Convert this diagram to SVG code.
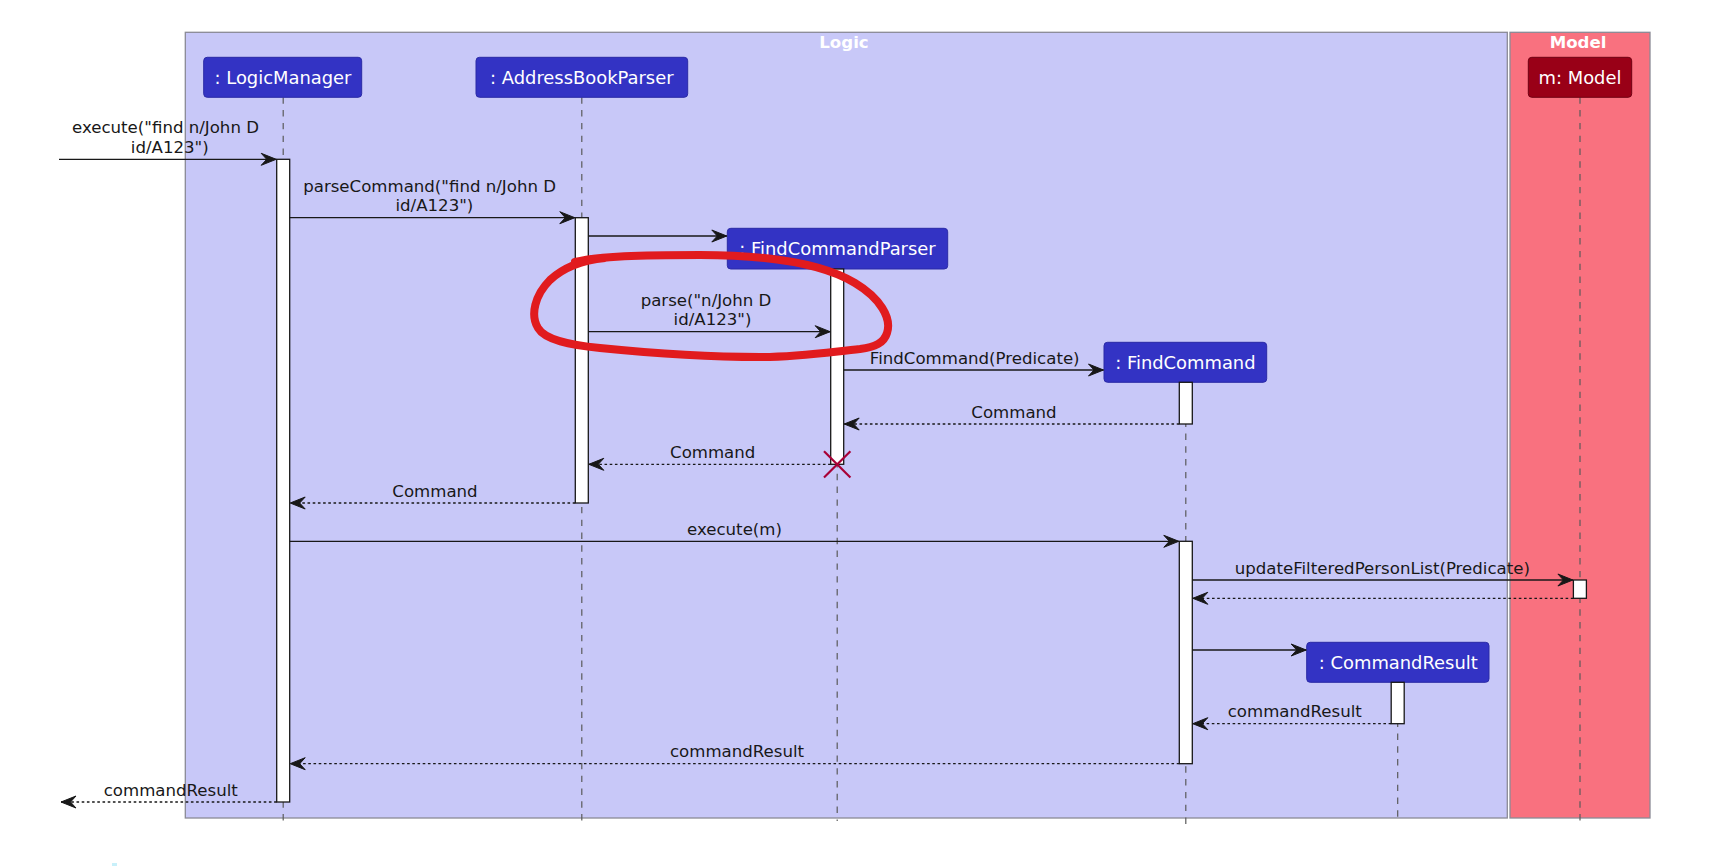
<svg xmlns="http://www.w3.org/2000/svg" width="1712" height="868" viewBox="0 0 1712 868">
<style>
.msg{font-family:"DejaVu Sans",sans-serif;font-size:16.6px;fill:#181818;text-anchor:middle}
.pn{font-family:"DejaVu Sans",sans-serif;font-size:17.9px;fill:#ffffff;text-anchor:middle}
.ttl{font-family:"DejaVu Sans",sans-serif;font-size:16.6px;font-weight:bold;fill:#ffffff;text-anchor:middle}
.life{stroke:#5a5a5a;stroke-width:1.2;stroke-dasharray:6.4 6.4;fill:none}
.act{fill:#ffffff;stroke:#181818;stroke-width:1.3}
.call{stroke:#181818;stroke-width:1.3;fill:none;marker-end:url(#ah)}
.ret{stroke:#181818;stroke-width:1.3;fill:none;stroke-dasharray:2.6 2.6;marker-end:url(#ah)}
.pbox{fill:#3333C4;stroke:#2a2aa6;stroke-width:1}
.mbox{fill:#990017;stroke:#700012;stroke-width:1}
</style>
<defs>
<marker id="ah" viewBox="-16 -8 17 16" refX="0" refY="0" markerWidth="17" markerHeight="16" markerUnits="userSpaceOnUse" orient="auto">
<path d="M0,0 L-15,-6 L-9.5,0 L-15,6 Z" fill="#181818" stroke="#181818" stroke-width="1" stroke-linejoin="miter"/>
</marker>
</defs>
<rect width="1712" height="868" fill="#ffffff"/>
<g id="box-logic">
<rect x="185.3" y="32.3" width="1322" height="785.7" fill="#C8C8F8" stroke="#8a8a96" stroke-width="1.3"/>
<text class="ttl" x="844" y="47.5">Logic</text>
</g>
<g id="box-model">
<rect x="1510" y="32.3" width="140" height="785.7" fill="#F9717F" stroke="#8a8a96" stroke-width="1.3"/>
<text class="ttl" x="1578" y="47.5">Model</text>
</g>
<g id="LogicManager">
<line class="life" x1="283.2" y1="97.3" x2="283.2" y2="821"/>
<rect class="pbox" x="203.7" y="57.3" width="158" height="40" rx="3.5"/>
<text class="pn" x="283" y="83.6">: LogicManager</text>
<rect class="act" x="276.7" y="159.3" width="13" height="642.7"/>
</g>
<g id="AddressBookParser">
<line class="life" x1="581.8" y1="97.3" x2="581.8" y2="821"/>
<rect class="pbox" x="476" y="57.3" width="211.7" height="40" rx="3.5"/>
<text class="pn" x="581.8" y="83.6">: AddressBookParser</text>
<rect class="act" x="575.3" y="217.7" width="13" height="285.3"/>
</g>
<g id="FindCommandParser">
<line class="life" x1="837.2" y1="269" x2="837.2" y2="821"/>
<rect class="pbox" x="727.3" y="228.3" width="220.4" height="40.7" rx="3.5"/>
<text class="pn" x="837.5" y="254.8">: FindCommandParser</text>
<rect class="act" x="830.7" y="269" width="13" height="195.3"/>
<g id="destroy" stroke="#A80036" stroke-width="2.2">
<line x1="824" y1="451.3" x2="850.4" y2="477.5"/>
<line x1="850.4" y1="451.3" x2="824" y2="477.5"/>
</g>
</g>
<g id="FindCommand">
<line class="life" x1="1185.8" y1="382.3" x2="1185.8" y2="827"/>
<rect class="pbox" x="1104" y="342.3" width="162.7" height="40" rx="3.5"/>
<text class="pn" x="1185.4" y="368.6">: FindCommand</text>
<rect class="act" x="1179.3" y="382.3" width="13" height="41.7"/>
<rect class="act" x="1179.3" y="541.3" width="13" height="222.4"/>
</g>
<g id="CommandResult">
<line class="life" x1="1397.7" y1="682.3" x2="1397.7" y2="821"/>
<rect class="pbox" x="1306.7" y="642.3" width="182.3" height="40" rx="3.5"/>
<text class="pn" x="1398.3" y="668.6">: CommandResult</text>
<rect class="act" x="1391.2" y="682.3" width="13" height="41.4"/>
</g>
<g id="Model">
<line class="life" x1="1580" y1="97.3" x2="1580" y2="821" stroke="#7a4a50"/>
<rect class="mbox" x="1528.3" y="57.3" width="103.4" height="40" rx="3.5"/>
<text class="pn" x="1580" y="83.6" fill="#FFE6EA">m: Model</text>
<rect class="act" x="1573.4" y="580" width="13" height="18.3"/>
</g>
<g id="connectors">
<line class="call" x1="59" y1="159.3" x2="276.2" y2="159.3"/>
<line class="call" x1="289.7" y1="217.7" x2="574.8" y2="217.7"/>
<line class="call" x1="588.3" y1="236" x2="726.8" y2="236"/>
<line class="call" x1="588.3" y1="331.7" x2="830.2" y2="331.7"/>
<line class="call" x1="843.7" y1="370" x2="1103.5" y2="370"/>
<line class="ret" x1="1179.3" y1="424" x2="844.2" y2="424"/>
<line class="ret" x1="830.7" y1="464.3" x2="588.8" y2="464.3"/>
<line class="ret" x1="575.3" y1="503" x2="290.2" y2="503"/>
<line class="call" x1="289.7" y1="541.3" x2="1178.8" y2="541.3"/>
<line class="call" x1="1192.3" y1="580" x2="1572.9" y2="580"/>
<line class="ret" x1="1573.4" y1="598.3" x2="1192.8" y2="598.3"/>
<line class="call" x1="1192.3" y1="650" x2="1306.2" y2="650"/>
<line class="ret" x1="1391.2" y1="723.7" x2="1192.8" y2="723.7"/>
<line class="ret" x1="1179.3" y1="763.7" x2="290.2" y2="763.7"/>
<line class="ret" x1="276.7" y1="802" x2="61" y2="802"/>
</g>
<g id="labels">
<text class="msg" x="165.5" y="133.4">execute("find n/John D</text>
<text class="msg" x="169.8" y="152.8">id/A123")</text>
<text class="msg" x="429.6" y="191.8">parseCommand("find n/John D</text>
<text class="msg" x="434.4" y="211.2">id/A123")</text>
<text class="msg" x="706" y="305.8">parse("n/John D</text>
<text class="msg" x="712.5" y="325.2">id/A123")</text>
<text class="msg" x="974.7" y="363.5">FindCommand(Predicate)</text>
<text class="msg" x="1014" y="417.5">Command</text>
<text class="msg" x="712.7" y="457.8">Command</text>
<text class="msg" x="435" y="496.5">Command</text>
<text class="msg" x="734.5" y="534.8">execute(m)</text>
<text class="msg" x="1382.3" y="573.5">updateFilteredPersonList(Predicate)</text>
<text class="msg" x="1294.8" y="717.2">commandResult</text>
<text class="msg" x="737" y="757.2">commandResult</text>
<text class="msg" x="170.8" y="795.5">commandResult</text>
</g>
<path id="annotation" d="M 575 262 C 600 256, 640 255, 700 255 C 760 255, 820 262, 855 283 C 880 298, 892 318, 887 333 C 884 343, 875 347, 860 349 C 830 352, 800 357, 760 357 C 700 357, 640 352, 600 348 C 570 345, 545 340, 538 328 C 530 315, 535 295, 550 280 C 565 266, 585 260, 605 258" fill="none" stroke="#E11B1E" stroke-width="8" stroke-linecap="round" stroke-linejoin="round"/>
<rect x="112" y="863" width="5" height="3" fill="#C8F0FA"/>
</svg>
